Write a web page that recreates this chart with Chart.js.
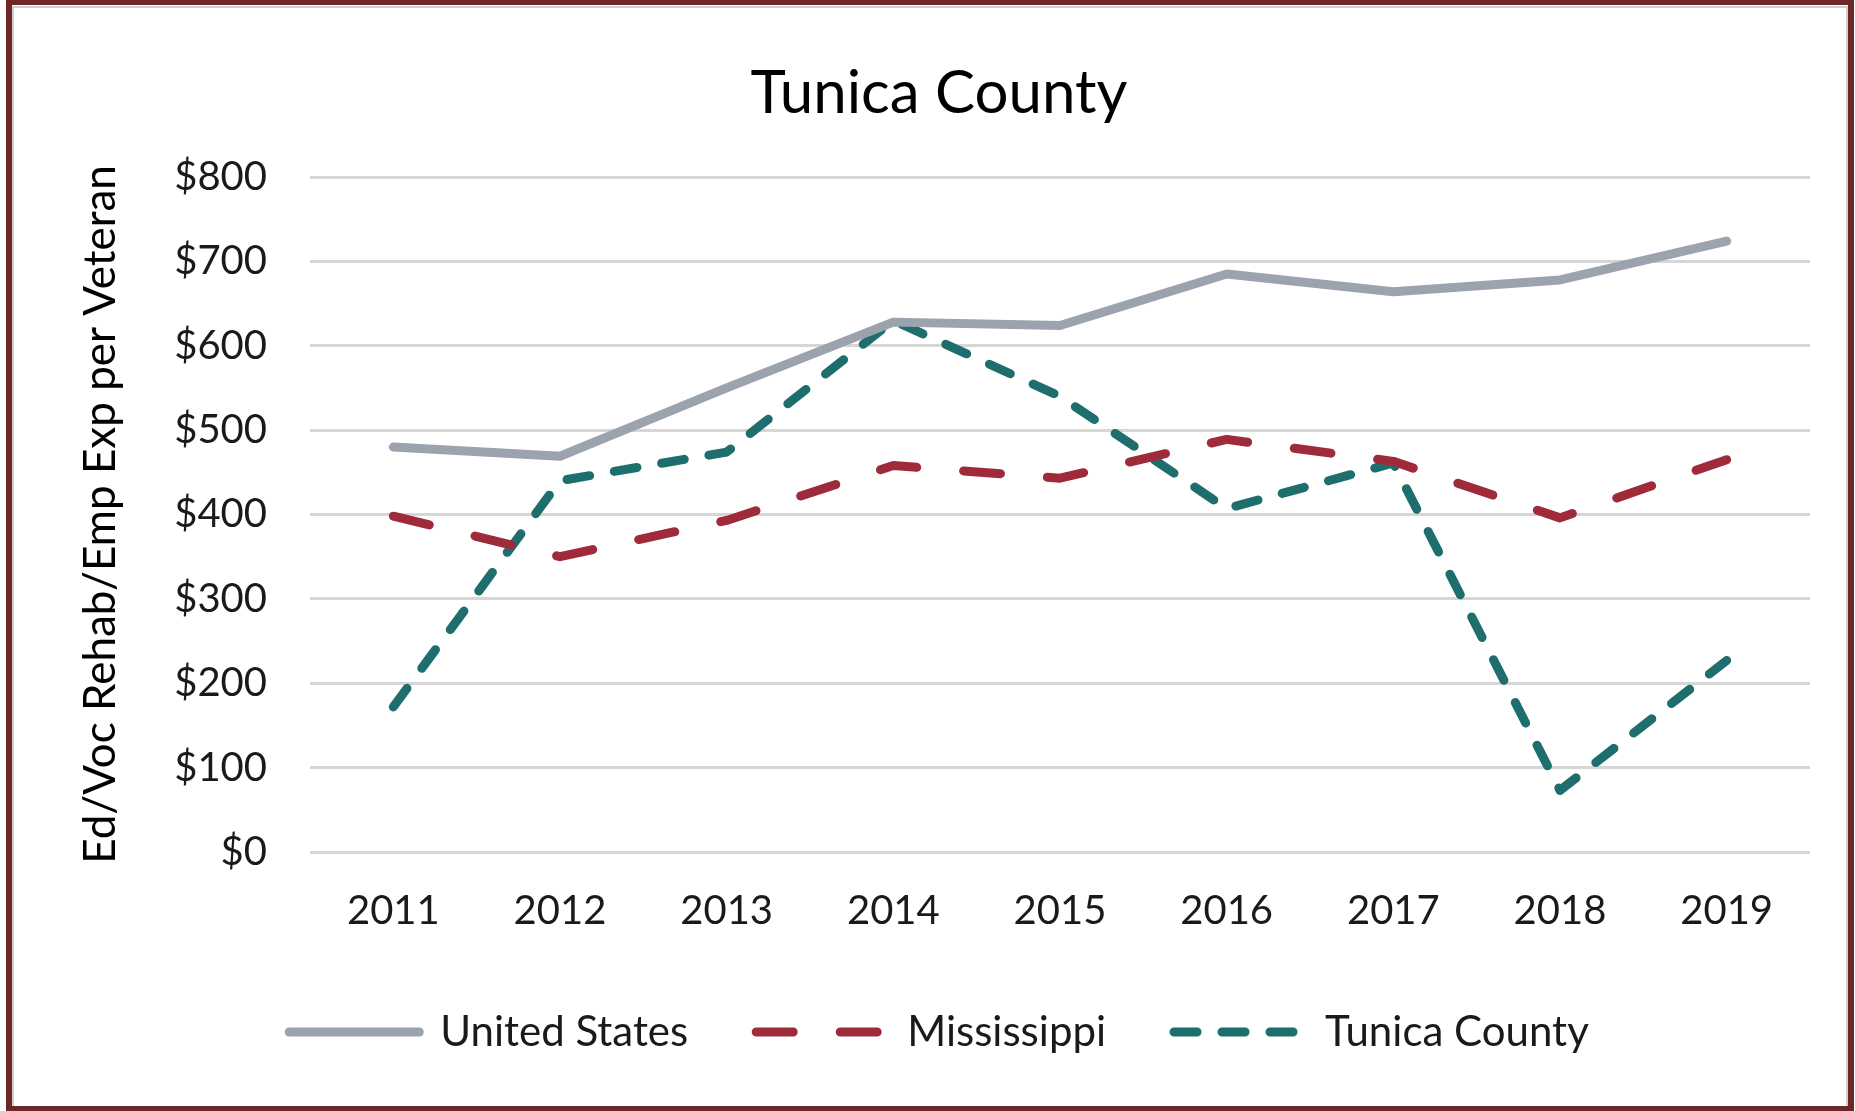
<!DOCTYPE html>
<html>
<head>
<meta charset="utf-8">
<script src="https://cdn.jsdelivr.net/npm/chart.js@4/dist/chart.umd.min.js"></script>
<style>
  html, body { margin: 0; padding: 0; background: #fff; }
  #wrap { position: absolute; left: 0; top: 0; width: 1855px; height: 1111px; }
</style>
</head>
<body>
<div id="wrap"><canvas id="c" width="1855" height="1111"></canvas></div>
<script>
const titleText = "Tunica County";
const yAxisTitle = "Ed/Voc Rehab/Emp Exp per Veteran";
const years = ["2011", "2012", "2013", "2014", "2015", "2016", "2017", "2018", "2019"];
const unitedStates = [480, 469, 550, 628, 624, 685, 664, 678, 724];
const mississippi = [398, 350, 393, 458, 443, 489, 463, 396, 465];
const tunicaCounty = [172, 440, 474, 630, 540, 407, 461, 73, 227];
const yTicks = [0, 100, 200, 300, 400, 500, 600, 700, 800];

const FONT = "Lato, 'Open Sans', sans-serif";

const framePlugin = {
  id: 'frame',
  beforeDraw(chart) {
    const ctx = chart.ctx;
    ctx.save();
    ctx.fillStyle = '#ffffff';
    ctx.fillRect(0, 0, chart.width, chart.height);
    ctx.restore();
  },
  afterDraw(chart) {
    const ctx = chart.ctx;
    ctx.save();
    ctx.strokeStyle = '#d0d0d0';
    ctx.lineWidth = 2;
    ctx.strokeRect(13, 7, chart.width - 21, chart.height - 11);
    ctx.strokeStyle = '#6e2727';
    ctx.lineWidth = 6;
    ctx.strokeRect(9, 2, chart.width - 13, chart.height - 4);
    ctx.restore();
  }
};

new Chart(document.getElementById('c'), {
  type: 'line',
  data: {
    labels: years,
    datasets: [
      {
        label: 'United States',
        data: unitedStates,
        borderColor: '#9ba3ae',
        backgroundColor: '#9ba3ae',
        borderWidth: 9,
        borderCapStyle: 'round',
        borderJoinStyle: 'round',
        pointRadius: 0,
        tension: 0
      },
      {
        label: 'Mississippi',
        data: mississippi,
        borderColor: '#9e2a3a',
        backgroundColor: '#9e2a3a',
        borderWidth: 9,
        borderDash: [37, 47],
        borderCapStyle: 'round',
        borderJoinStyle: 'round',
        pointRadius: 0,
        tension: 0
      },
      {
        label: 'Tunica County',
        data: tunicaCounty,
        borderColor: '#1f6e6e',
        backgroundColor: '#1f6e6e',
        borderWidth: 9,
        borderDash: [23, 25],
        borderCapStyle: 'round',
        borderJoinStyle: 'round',
        pointRadius: 0,
        tension: 0
      }
    ]
  },
  options: {
    responsive: false,
    animation: false,
    devicePixelRatio: 1,
    layout: { padding: { left: 68, right: 45, top: 0, bottom: 48 } },
    plugins: {
      tooltip: { enabled: false },
      title: {
        display: true,
        text: titleText,
        color: '#000000',
        font: { family: FONT, size: 60, weight: 'normal' },
        padding: { top: 58, bottom: 47 }
      },
      legend: {
        position: 'bottom',
        labels: {
          usePointStyle: true,
          pointStyle: 'line',
          pointStyleWidth: 130,
          color: '#1a1a1a',
          font: { family: FONT, size: 42 },
          padding: 68,
          generateLabels(chart) {
            const items = Chart.defaults.plugins.legend.labels.generateLabels(chart);
            items.forEach(it => {
              const ds = chart.data.datasets[it.datasetIndex];
              it.lineDash = ds.borderDash || [];
              it.lineCap = 'round';
              it.lineWidth = ds.borderWidth;
              it.strokeStyle = ds.borderColor;
              it.pointStyle = 'line';
            });
            return items;
          }
        }
      }
    },
    scales: {
      x: {
        type: 'category',
        offset: true,
        grid: { display: false, drawTicks: false },
        border: { display: false },
        ticks: { color: '#1a1a1a', font: { family: FONT, size: 40 }, padding: 35 },
        afterFit(scale) { scale.height = 91; }
      },
      y: {
        min: 0,
        max: 800,
        afterBuildTicks(scale) { scale.ticks = yTicks.map(v => ({ value: v })); },
        grid: { color: '#d6d6d6', lineWidth: 3, drawTicks: false },
        border: { display: false },
        ticks: {
          color: '#1a1a1a',
          font: { family: FONT, size: 40 },
          padding: 43,
          callback: (v) => '$' + v
        },
        title: {
          display: true,
          text: yAxisTitle,
          color: '#000000',
          font: { family: FONT, size: 44 },
          padding: { top: 6, bottom: 0 }
        },
        afterFit(scale) { scale.width = 242; }
      }
    }
  },
  plugins: [framePlugin]
});
</script>
</body>
</html>
